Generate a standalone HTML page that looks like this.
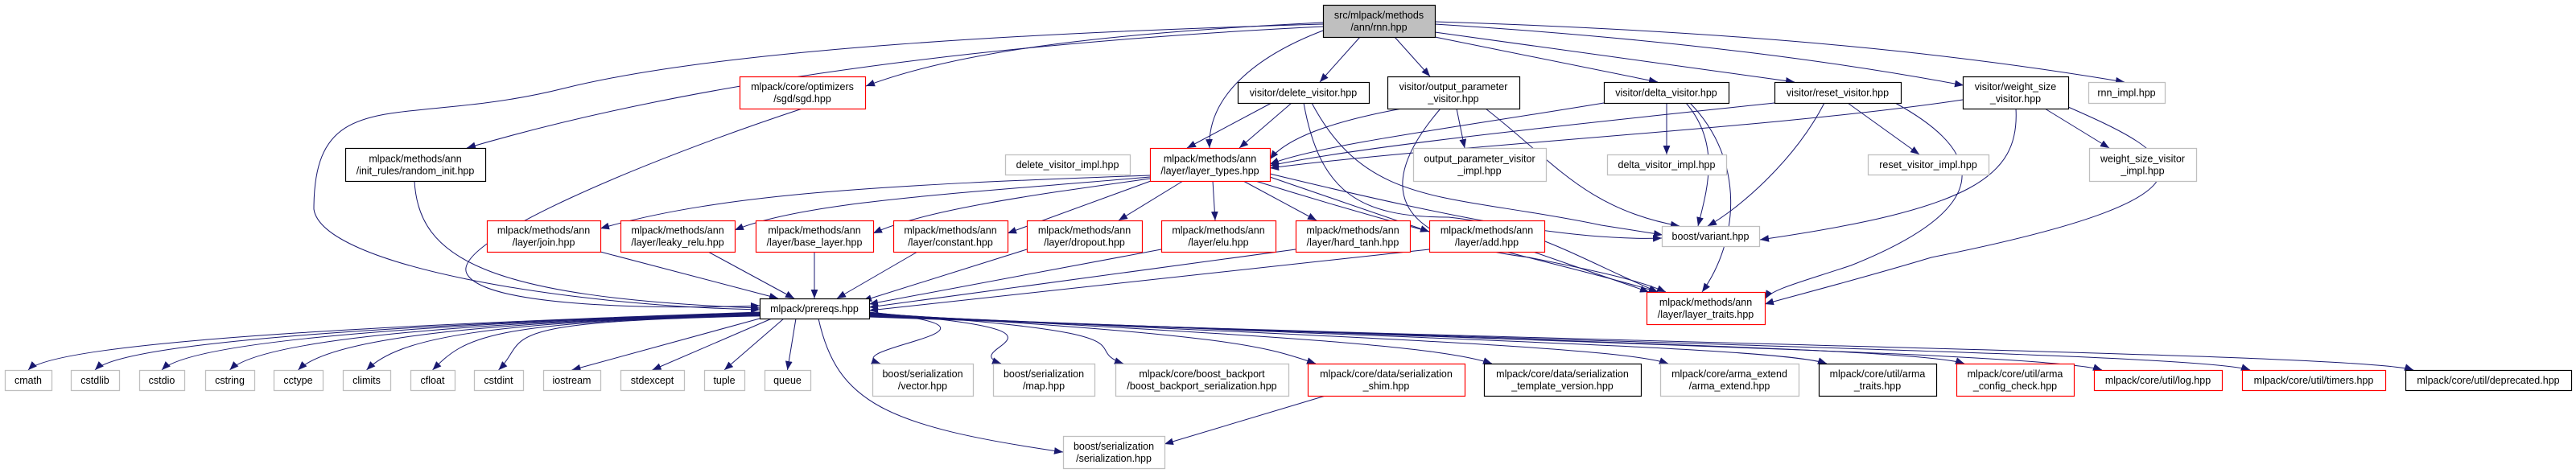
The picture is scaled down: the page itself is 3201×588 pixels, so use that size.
<!DOCTYPE html>
<html><head><meta charset="utf-8"><style>
html,body{margin:0;padding:0;background:#fff;}
svg{display:block;}
text{font-family:"Liberation Sans",sans-serif;font-size:12.5px;fill:#000;}
</style></head><body>
<svg id="g" width="3201" height="588" viewBox="0 0 3201 588" xmlns="http://www.w3.org/2000/svg">
<defs><marker id="a" viewBox="0 0 10 10" refX="10" refY="5" markerWidth="11" markerHeight="11" markerUnits="userSpaceOnUse" orient="auto"><path d="M0,1 L10,5 L0,9 z" fill="#191970"/></marker></defs>
<g id="e" fill="none" stroke="#191970" stroke-width="1"></g>
<g id="n"></g>
</svg>
<script>
(function(){
var N={
rnn:[1644,6,1783,46,"k",["src/mlpack/methods","/ann/rnn.hpp"],1],
sgd:[919,95,1075,135,"r",["mlpack/core/optimizers","/sgd/sgd.hpp"]],
rinit:[429,184,603,225,"k",["mlpack/methods/ann","/init_rules/random_init.hpp"]],
join:[605,274,746,313,"r",["mlpack/methods/ann","/layer/join.hpp"]],
leaky:[771,274,913,313,"r",["mlpack/methods/ann","/layer/leaky_relu.hpp"]],
base:[939,274,1085,313,"r",["mlpack/methods/ann","/layer/base_layer.hpp"]],
delv:[1538,102,1701,128,"k",["visitor/delete_visitor.hpp"]],
outv:[1724,95,1888,135,"k",["visitor/output_parameter","_visitor.hpp"]],
delta:[1993,102,2148,128,"k",["visitor/delta_visitor.hpp"]],
reset:[2205,102,2362,128,"k",["visitor/reset_visitor.hpp"]],
wsv:[2439,95,2570,135,"k",["visitor/weight_size","_visitor.hpp"]],
rimpl:[2595,102,2690,128,"g",["rnn_impl.hpp"]],
delvi:[1249,192,1404,217,"g",["delete_visitor_impl.hpp"]],
lt:[1429,184,1578,225,"r",["mlpack/methods/ann","/layer/layer_types.hpp"]],
outvi:[1756,184,1921,225,"g",["output_parameter_visitor","_impl.hpp"]],
deltai:[1997,192,2145,217,"g",["delta_visitor_impl.hpp"]],
reseti:[2321,192,2471,217,"g",["reset_visitor_impl.hpp"]],
wsvi:[2596,184,2729,225,"g",["weight_size_visitor","_impl.hpp"]],
cons:[1110,274,1252,313,"r",["mlpack/methods/ann","/layer/constant.hpp"]],
drop:[1276,274,1419,313,"r",["mlpack/methods/ann","/layer/dropout.hpp"]],
elu:[1443,274,1585,313,"r",["mlpack/methods/ann","/layer/elu.hpp"]],
ht:[1610,274,1752,313,"r",["mlpack/methods/ann","/layer/hard_tanh.hpp"]],
add:[1776,274,1919,313,"r",["mlpack/methods/ann","/layer/add.hpp"]],
bv:[2065,281,2186,306,"g",["boost/variant.hpp"]],
ltr:[2046,363,2193,403,"r",["mlpack/methods/ann","/layer/layer_traits.hpp"]],
pre:[944,371,1080,396,"k",["mlpack/prereqs.hpp"]],
cmath:[6,460,64,485,"g",["cmath"]],
cstdlib:[88,460,148,485,"g",["cstdlib"]],
cstdio:[173,460,229,485,"g",["cstdio"]],
cstring:[255,460,316,485,"g",["cstring"]],
cctype:[340,460,401,485,"g",["cctype"]],
climits:[426,460,485,485,"g",["climits"]],
cfloat:[510,460,565,485,"g",["cfloat"]],
cstdint:[589,460,650,485,"g",["cstdint"]],
iostream:[675,460,746,485,"g",["iostream"]],
stdexcept:[771,460,850,485,"g",["stdexcept"]],
tuple:[875,460,925,485,"g",["tuple"]],
queue:[950,460,1007,485,"g",["queue"]],
bsv:[1084,452,1209,492,"g",["boost/serialization","/vector.hpp"]],
bsm:[1234,452,1360,492,"g",["boost/serialization","/map.hpp"]],
bb:[1386,452,1601,492,"g",["mlpack/core/boost_backport","/boost_backport_serialization.hpp"]],
shim:[1625,452,1820,492,"r",["mlpack/core/data/serialization","_shim.hpp"]],
tv:[1844,452,2039,492,"k",["mlpack/core/data/serialization","_template_version.hpp"]],
ae:[2063,452,2235,492,"g",["mlpack/core/arma_extend","/arma_extend.hpp"]],
at:[2260,452,2406,492,"k",["mlpack/core/util/arma","_traits.hpp"]],
acc:[2431,452,2577,492,"r",["mlpack/core/util/arma","_config_check.hpp"]],
log:[2602,460,2761,485,"r",["mlpack/core/util/log.hpp"]],
tim:[2786,460,2964,485,"r",["mlpack/core/util/timers.hpp"]],
dep:[2989,460,3195,485,"k",["mlpack/core/util/deprecated.hpp"]],
ser:[1321,542,1447,582,"g",["boost/serialization","/serialization.hpp"]]
};
var SVGNS="http://www.w3.org/2000/svg";
function el(t,a,p){var e=document.createElementNS(SVGNS,t);for(var k in a)e.setAttribute(k,a[k]);p.appendChild(e);return e;}
var ng=document.getElementById("n"),eg=document.getElementById("e");
var col={k:"#000",r:"#ff0000",g:"#bfbfbf"};
for(var id in N){var d=N[id];
 el("rect",{x:d[0]+.5,y:d[1]+.5,width:d[2]-d[0],height:d[3]-d[1],fill:d[6]?"#bfbfbf":"#fff",stroke:col[d[4]],"stroke-width":d[4]=="g"?1.3:1.2},ng);
 var cx=(d[0]+d[2])/2,h=d[3]-d[1],L=d[5];
 for(var i=0;i<L.length;i++){var y=L.length==1?d[1]+h/2+4.5:d[1]+h/2-3+i*15;
  var t=el("text",{x:cx,y:y,"text-anchor":"middle"},ng);t.textContent=L[i];}
}
function P(s){el("path",{d:s,"marker-end":"url(#a)"},eg);}
function nTop(id,dx){var d=N[id];return [(d[0]+d[2])/2+(dx||0),d[1]];}
function Lp(a,b){P("M"+a[0]+","+a[1]+" L"+b[0]+","+b[1]);}
P("M1644,28 C1400,40 1200,60 1076,107");
P("M1644,33 C1300,50 900,90 580,184");
P("M1644,30 C1300,40 900,60 700,110 C500,160 390,100 390,260 C400,330 700,380 944,385");
P("M1644,38 C1560,70 1500,120 1503,184");
Lp([1690,46],[1640,102]);
Lp([1733,46],[1777,95]);
Lp([1783,46],[2060,102]);
P("M1783,40 C2000,70 2150,90 2230,102");
P("M1783,30 C2100,50 2300,80 2440,106");
P("M1783,27 C2200,40 2450,70 2640,102");
Lp([1580,128],[1475,184]);Lp([1605,128],[1540,184]);
P("M1620,128 C1640,240 1690,270 1800,270 C1900,280 1960,320 2060,363");
P("M1630,128 C1700,260 1800,240 1990,280 L2066,292");
P("M1742,135 C1660,150 1600,170 1578,198");
Lp([1810,135],[1820,184]);
P("M1790,135 C1700,240 1740,300 1900,320 C2000,340 2040,350 2070,363");
P("M1846,135 C1930,200 1970,260 2087,281");
P("M1993,128 C1800,160 1640,180 1578,204");
Lp([2071,128],[2071,192]);
P("M2095,128 C2140,180 2120,240 2110,281");
P("M2100,128 C2170,200 2160,300 2115,363");
P("M2205,128 C2000,150 1700,180 1578,206");
Lp([2296,128],[2385,192]);
P("M2267,128 C2230,200 2160,260 2122,281");
P("M2355,128 C2450,180 2500,250 2300,330 C2240,350 2200,360 2193,372");
P("M2439,124 C2200,160 1800,180 1578,209");
P("M2505,135 C2510,220 2450,260 2187,298");
Lp([2541,135],[2621,184]);
P("M2570,133 C2700,190 2800,240 2400,320 C2300,350 2220,370 2193,378");
P("M1429,218 C1100,230 900,240 746,284");
P("M1429,220 C1200,240 1000,250 913,286");
P("M1429,222 C1300,240 1150,260 1085,290");
Lp([1430,225],[1252,290]);
Lp([1470,225],[1390,274]);
Lp([1507,225],[1510,274]);
Lp([1545,225],[1636,274]);
Lp([1578,220],[1776,288]);
P("M1578,216 C1800,270 1950,300 2065,296");
P("M1560,225 C1800,300 1950,330 2060,363");
Lp([1905,313],[2049,363]);
Lp([746,313],[967,371]);Lp([880,313],[987,371]);Lp([1012,313],[1012,371]);
Lp([1140,313],[1040,371]);Lp([1276,310],[1072,374]);Lp([1443,310],[1080,378]);
Lp([1610,310],[1080,382]);Lp([1776,310],[1080,386]);
P("M997,135 C800,200 560,300 580,340 C600,380 800,385 944,380");
P("M515,225 C520,320 600,370 944,383");
var bots=["cmath","cstdlib","cstdio","cstring","cctype","climits","cfloat","cstdint","iostream","stdexcept","tuple","queue"];
bots.forEach(function(b,i){var t=nTop(b);
 if(i<8)P("M944,"+(388+i*0.7)+" C600,400 "+(t[0]+40)+",420 "+t[0]+","+t[1]);
 else Lp([944+(i-8)*15,396],[t[0],t[1]]);});
["bsv","bsm","bb","shim","tv","ae","at","acc","log","tim","dep"].forEach(function(b,i){var t=nTop(b,-(N[b][2]-N[b][0])/2+10);
 P("M1080,"+(388+i*0.6)+" C"+(1300+i*80)+","+(410+i*2)+" "+(t[0]-60)+","+(t[1]-20)+" "+t[0]+","+t[1]);});
P("M1017,396 C1040,500 1100,530 1321,562");
Lp([1647,492],[1447,552]);
})();
</script>
</body></html>
